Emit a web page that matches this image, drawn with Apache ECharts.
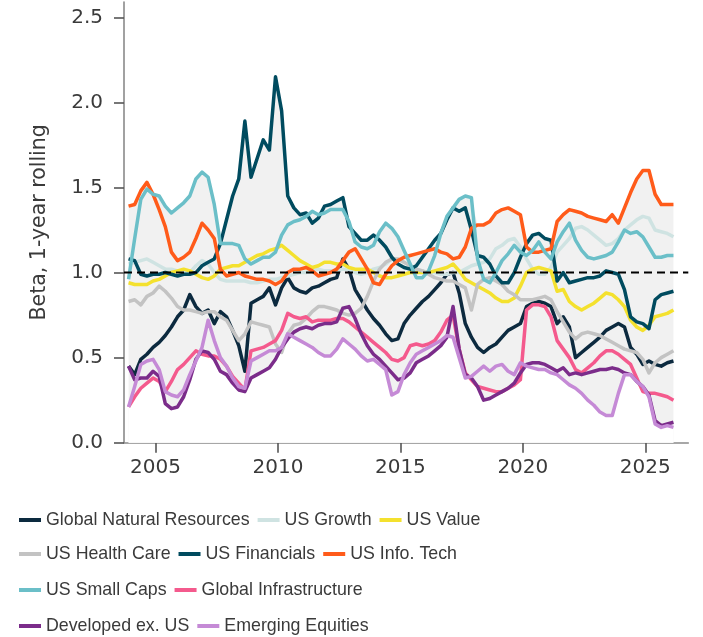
<!DOCTYPE html>
<html>
<head>
<meta charset="utf-8">
<script src="https://cdn.jsdelivr.net/npm/echarts@6/dist/echarts.min.js"></script>
<style>
html,body{margin:0;padding:0;background:#fff;}
#chart{width:703px;height:637px;}
</style>
</head>
<body>
<div id="chart"></div>
<script>
// ---- data (quarterly samples) ----
const startYear = 2003.9, stepYear = 0.25, nPoints = 90;
const yTicks = [0, 0.5, 1.0, 1.5, 2.0, 2.5];
const xTicks = [2005, 2010, 2015, 2020, 2025];
const names = ['Global Natural Resources','US Growth','US Value','US Health Care','US Financials','US Info. Tech','US Small Caps','Global Infrastructure','Developed ex. US','Emerging Equities'];

const globalNaturalResources = [0.45,0.40,0.49,0.52,0.56,0.59,0.63,0.68,0.74,0.78,
 0.87,0.80,0.76,0.78,0.70,0.77,0.74,0.66,0.57,0.42,
 0.82,0.84,0.86,0.91,0.81,0.91,0.97,0.91,0.89,0.88,
 0.91,0.92,0.94,0.96,0.97,1.08,1.02,0.90,0.84,0.78,
 0.73,0.69,0.64,0.60,0.61,0.70,0.75,0.79,0.83,0.86,
 0.90,0.94,0.99,1.00,0.88,0.70,0.62,0.56,0.53,0.56,
 0.58,0.62,0.66,0.68,0.70,0.80,0.82,0.83,0.82,0.80,
 0.70,0.74,0.68,0.50,0.53,0.56,0.59,0.62,0.66,0.68,
 0.70,0.68,0.56,0.52,0.46,0.48,0.46,0.45,0.47,0.48];
const usGrowth = [1.05,1.06,1.07,1.08,1.06,1.04,1.02,1.02,1.01,1.00,
 1.00,1.04,1.07,1.05,1.00,0.96,0.95,0.95,0.95,0.95,
 0.94,0.94,0.95,0.96,0.96,0.97,0.98,0.99,1.00,1.00,
 1.01,1.02,1.01,1.01,1.01,1.02,1.02,1.00,0.99,1.00,
 1.02,1.03,1.05,1.08,1.08,1.06,1.04,1.02,1.01,1.00,
 1.00,0.99,0.99,1.00,1.00,1.02,1.04,1.05,1.06,1.08,
 1.14,1.16,1.19,1.20,1.15,1.08,1.02,0.99,0.99,1.03,
 1.12,1.16,1.20,1.26,1.27,1.25,1.22,1.19,1.16,1.17,
 1.20,1.25,1.28,1.31,1.33,1.32,1.25,1.24,1.23,1.21];
const usValue = [0.94,0.93,0.93,0.93,0.95,0.96,0.98,1.00,1.01,1.02,
 1.01,0.99,0.97,0.96,0.98,1.02,1.03,1.04,1.04,1.06,
 1.08,1.10,1.11,1.13,1.14,1.16,1.13,1.10,1.07,1.05,
 1.03,1.04,1.06,1.06,1.05,1.05,1.03,1.02,1.02,1.02,
 1.00,0.98,0.97,0.97,0.98,0.99,1.00,1.00,1.00,1.00,
 1.01,1.02,1.03,1.05,1.01,0.96,0.94,0.92,0.90,0.88,
 0.85,0.83,0.83,0.85,0.92,1.00,1.02,1.03,1.02,1.01,
 0.89,0.90,0.83,0.80,0.78,0.80,0.82,0.85,0.88,0.87,
 0.84,0.80,0.72,0.68,0.66,0.69,0.74,0.75,0.76,0.78];
const usHealthCare = [0.83,0.84,0.81,0.86,0.88,0.92,0.89,0.85,0.80,0.78,
 0.78,0.77,0.76,0.77,0.77,0.74,0.72,0.66,0.60,0.64,
 0.71,0.70,0.69,0.68,0.58,0.53,0.64,0.69,0.70,0.73,
 0.77,0.80,0.80,0.79,0.78,0.76,0.75,0.76,0.79,0.86,
 0.95,1.02,1.06,1.08,1.08,1.06,1.04,1.02,1.01,0.99,
 0.97,0.96,0.95,0.95,0.93,0.91,0.78,0.93,0.96,0.97,
 0.95,0.93,0.89,0.87,0.84,0.84,0.84,0.85,0.86,0.84,
 0.77,0.71,0.65,0.61,0.64,0.65,0.64,0.63,0.61,0.59,
 0.57,0.55,0.54,0.53,0.49,0.41,0.47,0.50,0.52,0.54];
const usFinancials = [1.08,1.07,0.99,0.98,0.99,0.99,1.00,0.99,0.98,0.99,
 0.99,1.00,1.04,1.06,1.08,1.17,1.31,1.45,1.55,1.89,
 1.56,1.67,1.78,1.72,2.15,1.95,1.45,1.38,1.34,1.35,
 1.29,1.32,1.39,1.40,1.42,1.44,1.27,1.23,1.19,1.19,
 1.22,1.19,1.15,1.09,1.05,1.03,1.02,1.04,1.09,1.14,
 1.19,1.23,1.31,1.38,1.36,1.38,1.25,1.10,1.09,1.05,
 0.98,0.94,0.94,1.00,1.09,1.17,1.22,1.23,1.20,1.19,
 0.95,1.00,0.94,0.95,0.96,0.97,0.97,0.98,1.01,1.00,
 0.99,0.90,0.74,0.71,0.70,0.67,0.84,0.87,0.88,0.89];
const usInfoTech = [1.39,1.40,1.48,1.53,1.46,1.37,1.27,1.12,1.07,1.09,
 1.12,1.20,1.29,1.25,1.20,1.02,0.98,0.99,1.00,0.98,
 0.97,0.96,0.96,0.95,0.93,0.95,1.00,1.02,1.02,1.03,
 1.01,0.98,0.99,1.00,1.02,1.07,1.12,1.14,1.08,1.02,
 0.94,0.93,0.99,1.04,1.07,1.09,1.10,1.11,1.12,1.13,
 1.14,1.12,1.11,1.08,1.09,1.15,1.26,1.28,1.28,1.30,
 1.35,1.37,1.38,1.36,1.34,1.15,1.12,1.12,1.13,1.14,
 1.30,1.34,1.37,1.36,1.35,1.33,1.32,1.31,1.30,1.34,
 1.29,1.38,1.47,1.55,1.60,1.60,1.46,1.40,1.40,1.40];
const usSmallCaps = [0.96,1.20,1.43,1.49,1.46,1.45,1.39,1.35,1.38,1.41,
 1.45,1.55,1.59,1.56,1.40,1.17,1.17,1.17,1.16,1.08,
 1.05,1.07,1.09,1.09,1.12,1.22,1.28,1.30,1.31,1.33,
 1.36,1.34,1.35,1.37,1.37,1.37,1.30,1.18,1.15,1.14,
 1.16,1.24,1.29,1.26,1.21,1.13,1.05,0.97,0.97,1.01,
 1.10,1.23,1.33,1.38,1.43,1.45,1.44,1.08,0.96,0.94,
 1.00,1.07,1.11,1.16,1.12,1.10,1.13,1.18,1.12,1.08,
 1.18,1.24,1.29,1.19,1.13,1.09,1.08,1.09,1.10,1.12,
 1.18,1.25,1.23,1.24,1.21,1.15,1.09,1.09,1.10,1.10];
const globalInfrastructure = [0.21,0.27,0.32,0.35,0.38,0.36,0.30,0.36,0.43,0.46,
 0.50,0.54,0.52,0.51,0.51,0.49,0.45,0.39,0.35,0.31,
 0.54,0.55,0.56,0.58,0.60,0.66,0.76,0.74,0.73,0.74,
 0.71,0.72,0.72,0.72,0.73,0.73,0.71,0.68,0.65,0.62,
 0.59,0.56,0.53,0.49,0.48,0.50,0.57,0.58,0.57,0.58,
 0.60,0.65,0.72,0.75,0.55,0.41,0.37,0.33,0.32,0.31,
 0.30,0.30,0.32,0.34,0.37,0.78,0.81,0.81,0.80,0.74,
 0.60,0.55,0.50,0.43,0.41,0.44,0.47,0.51,0.54,0.54,
 0.52,0.49,0.46,0.38,0.30,0.29,0.29,0.28,0.27,0.25];
const developedExUS = [0.45,0.37,0.38,0.38,0.42,0.39,0.23,0.20,0.21,0.27,
 0.37,0.49,0.54,0.53,0.49,0.42,0.40,0.35,0.31,0.30,
 0.38,0.40,0.42,0.44,0.49,0.56,0.61,0.65,0.67,0.68,
 0.67,0.69,0.70,0.70,0.71,0.79,0.80,0.73,0.64,0.57,
 0.52,0.49,0.45,0.41,0.37,0.38,0.41,0.47,0.49,0.51,
 0.54,0.57,0.62,0.80,0.55,0.40,0.38,0.33,0.25,0.26,
 0.28,0.30,0.32,0.35,0.41,0.46,0.47,0.47,0.46,0.44,
 0.42,0.44,0.40,0.41,0.40,0.41,0.42,0.43,0.43,0.44,
 0.43,0.41,0.40,0.36,0.33,0.28,0.13,0.10,0.11,0.12];
const emergingEquities = [0.21,0.33,0.46,0.48,0.49,0.43,0.30,0.28,0.27,0.31,
 0.40,0.48,0.56,0.72,0.60,0.50,0.45,0.38,0.33,0.32,
 0.48,0.50,0.52,0.54,0.54,0.56,0.64,0.62,0.60,0.58,
 0.56,0.53,0.51,0.51,0.55,0.61,0.58,0.55,0.51,0.48,
 0.49,0.46,0.43,0.28,0.30,0.40,0.47,0.52,0.54,0.56,
 0.58,0.60,0.63,0.62,0.50,0.38,0.39,0.42,0.45,0.42,
 0.45,0.46,0.42,0.40,0.47,0.45,0.44,0.43,0.43,0.41,
 0.40,0.37,0.34,0.32,0.29,0.25,0.22,0.18,0.16,0.16,
 0.29,0.40,0.40,0.36,0.33,0.27,0.11,0.09,0.10,0.09];

const allValues = [globalNaturalResources, usGrowth, usValue, usHealthCare, usFinancials, usInfoTech, usSmallCaps, globalInfrastructure, developedExUS, emergingEquities];
const colors = ['#0c2a3f','#cfe3e2','#f4e12e','#c3c3c3','#004b5f','#ff5b1a','#6bbfc8','#f45a8d','#7b2c8a','#c58ad6'];

// ---- build ----
const dates = [];
for (let i = 0; i < nPoints; i++) dates.push(+(startYear + stepYear * i).toFixed(3));

const lowEnv = [], highEnv = [];
for (let i = 0; i < nPoints; i++) {
  const col = allValues.map(a => a[i]);
  lowEnv.push([dates[i], Math.min(...col)]);
  highEnv.push([dates[i], Math.max(...col)]);
}

function hasFont(name) {
  const c = document.createElement('canvas').getContext('2d');
  const s = 'abcdefghijklmnopqrstuvwxyzABCDEFG';
  c.font = '40px monospace'; const a = c.measureText(s).width;
  c.font = '40px "' + name + '", monospace'; const b = c.measureText(s).width;
  return a !== b;
}
const narrow = hasFont('Liberation Sans Narrow');
const legendText = narrow
  ? { fontFamily: '"Liberation Sans Narrow"', fontSize: 22, color: '#3a3a3a' }
  : { fontFamily: '"Liberation Sans", Arial, sans-serif', fontSize: 17.8, color: '#3a3a3a' };

const xMin = 2003.714, xMax = 2026.756;
const axisFont = { fontFamily: '"DejaVu Sans", sans-serif', fontSize: 20, color: '#3a3a3a' };

const series = [
  { name: 'bandHigh', type: 'line', data: highEnv, symbol: 'none', silent: true,
    lineStyle: { opacity: 0 }, areaStyle: { color: '#f1f1f1', opacity: 1, origin: 'start' }, z: 1 },
  { name: 'bandLow', type: 'line', data: lowEnv, symbol: 'none', silent: true,
    lineStyle: { opacity: 0 }, areaStyle: { color: '#ffffff', opacity: 1, origin: 'start' }, z: 1 }
];
names.forEach((n, k) => {
  series.push({
    name: n, type: 'line', symbol: 'none', z: 2,
    data: dates.map((d, i) => [d, allValues[k][i]]),
    lineStyle: { width: 3.5, color: colors[k], join: 'round' },
    itemStyle: { color: colors[k] }
  });
});
series.push({ name: 'ref', type: 'line', symbol: 'none', silent: true, z: 5,
  data: [[xMin, 1], [xMax, 1]],
  lineStyle: { color: '#000', width: 2, type: [8, 5] } });

const rows = [
  [names[0], names[1], names[2]],
  [names[3], names[4], names[5]],
  [names[6], names[7]],
  [names[8], names[9]]
];
const rowTops = [511, 545, 581, 617];
const legends = rows.map((r, k) => ({
  data: r, left: 19, top: rowTops[k], padding: 0, orient: 'horizontal',
  icon: 'rect', itemWidth: 22, itemHeight: 4, itemGap: 8,
  textStyle: legendText, selectedMode: false
}));

const chart = echarts.init(document.getElementById('chart'), null, { renderer: 'canvas' });
chart.setOption({
  animation: false,
  backgroundColor: '#ffffff',
  legend: legends,
  grid: { left: 124, right: 14.7, top: 2, bottom: 194.3, containLabel: false },
  xAxis: {
    type: 'value', min: xMin, max: xMax,
    axisLine: { show: true, lineStyle: { color: '#8a8a8a', width: 1.6 } },
    axisTick: { show: true, length: 10, customValues: xTicks, lineStyle: { color: '#555', width: 1.6 } },
    axisLabel: Object.assign({ customValues: xTicks, margin: 15, formatter: v => String(Math.round(v)) }, axisFont),
    splitLine: { show: false }
  },
  yAxis: {
    type: 'value', min: 0, max: 2.59,
    name: 'Beta, 1-year rolling', nameLocation: 'middle', nameRotate: 90, nameGap: 74,
    nameTextStyle: { fontFamily: '"DejaVu Sans", sans-serif', fontSize: 20.5, color: '#3a3a3a' },
    axisLine: { show: true, lineStyle: { color: '#8a8a8a', width: 1.6 } },
    axisTick: { show: true, length: 10, customValues: yTicks, lineStyle: { color: '#555', width: 1.6 } },
    axisLabel: Object.assign({ customValues: yTicks, margin: 21, formatter: v => v.toFixed(1) }, axisFont),
    splitLine: { show: false }
  },
  series: series
});
</script>
</body>
</html>
